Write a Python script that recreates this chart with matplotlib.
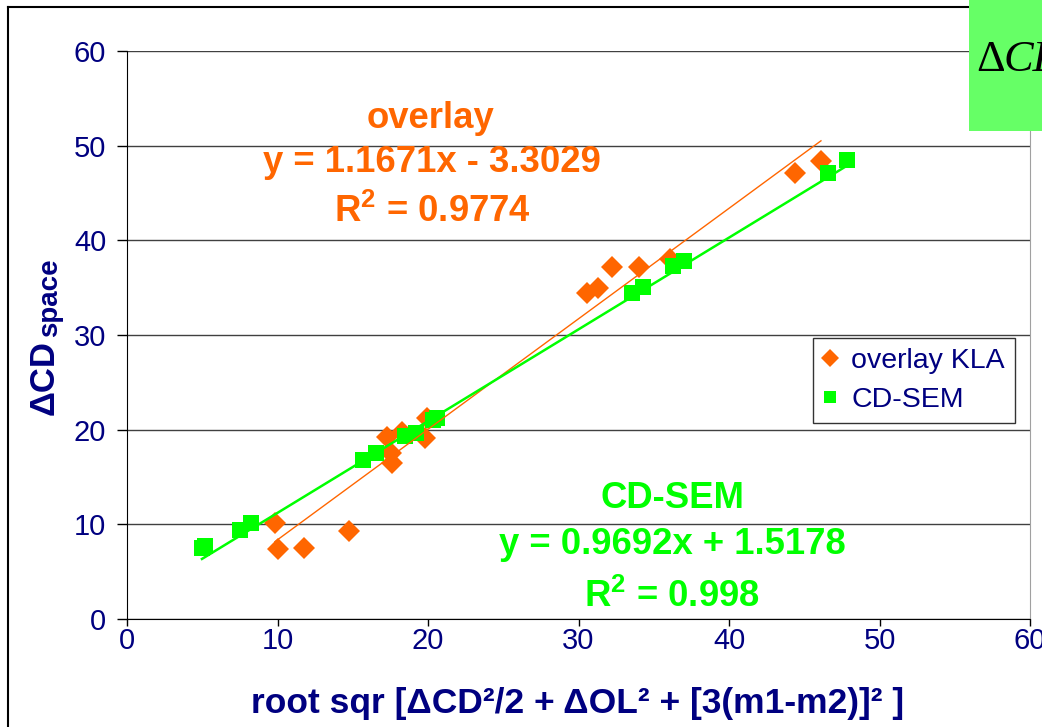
import matplotlib
matplotlib.use("Agg")
import matplotlib.pyplot as plt
from matplotlib.lines import Line2D
from matplotlib.patches import Rectangle
import numpy as np

# ---- data ----
kla_x = [9.83, 10.03, 11.76, 14.75, 17.28, 17.54, 17.61, 18.27, 19.80, 19.93,
         30.56, 31.30, 32.23, 34.02, 36.08, 44.39, 46.11]
kla_y = [10.14, 7.39, 7.50, 9.29, 19.22, 17.53, 16.47, 19.75, 19.11, 21.22,
         34.42, 34.95, 37.17, 37.17, 38.01, 47.10, 48.36]

sem_x = [4.98, 5.18, 7.51, 8.24, 15.68, 16.54, 18.47, 19.20, 20.33, 20.60,
         33.55, 34.29, 36.28, 37.01, 46.58, 47.84]
sem_y = [7.50, 7.71, 9.40, 10.14, 16.79, 17.53, 19.32, 19.64, 21.01, 21.22,
         34.42, 35.06, 37.28, 37.80, 47.10, 48.47]

kla_fit = (1.1671, -3.3029)
sem_fit = (0.9692, 1.5178)
kla_r2 = "0.9774"
sem_r2 = "0.998"

x_ticks = [0, 10, 20, 30, 40, 50, 60]
y_ticks = [0, 10, 20, 30, 40, 50, 60]

ORANGE = "#FF6600"
GREEN = "#00FF00"
NAVY = "#000080"

plt.rcParams['font.family'] = ['Liberation Sans', 'DejaVu Sans']
plt.rcParams['mathtext.fontset'] = 'custom'
plt.rcParams['mathtext.rm'] = 'Liberation Sans'
plt.rcParams['mathtext.bf'] = 'Liberation Sans:bold'

W, H = 1042, 727
fig = plt.figure(figsize=(W / 100, H / 100), dpi=100)

def fx(px):
    return px / W

def fy(py):
    return 1 - py / H

ax = fig.add_axes([fx(127), fy(619), fx(1030) - fx(127), fy(51) - fy(619)])
ax.set_xlim(0, 60)
ax.set_ylim(0, 60)
ax.set_xticks(x_ticks)
ax.set_yticks(y_ticks)
ax.tick_params(axis='both', direction='out', width=1, color='black',
               labelsize=21, labelcolor=NAVY)
ax.tick_params(axis='y', length=7, pad=8)
ax.tick_params(axis='x', length=5, pad=0.5)
ax.yaxis.grid(True, color='#404040', linewidth=1)
ax.set_axisbelow(True)
ax.spines['top'].set_visible(False)
ax.spines['right'].set_color('#A0A0A0')
ax.spines['left'].set_color('black')
ax.spines['bottom'].set_color('black')

ax.plot(kla_x, kla_y, linestyle='none', marker='D', markersize=11,
        color=ORANGE, markeredgewidth=0, zorder=3)
ax.plot(sem_x, sem_y, linestyle='none', marker='s', markersize=11,
        color=GREEN, markeredgewidth=0, zorder=4)

xk = np.array([min(kla_x), max(kla_x)])
ax.plot(xk, kla_fit[0] * xk + kla_fit[1], color=ORANGE, linewidth=1, zorder=5)
xs = np.array([min(sem_x), max(sem_x)])
ax.plot(xs, sem_fit[0] * xs + sem_fit[1], color=GREEN, linewidth=1.8, zorder=5)

# trendline labels
FS = 26.3
ax.text(fx(431), fy(118), "overlay", transform=fig.transFigure, color=ORANGE,
        fontsize=FS, fontweight='bold', ha='center', va='center')
ax.text(fx(432), fy(163), "y = %.4fx - %.4f" % (kla_fit[0], -kla_fit[1]),
        transform=fig.transFigure, color=ORANGE, fontsize=FS, fontweight='bold',
        ha='center', va='center')
ax.text(fx(432), fy(212), r"R$^{\mathbf{2}}$ = " + kla_r2, transform=fig.transFigure,
        color=ORANGE, fontsize=FS, fontweight='bold', ha='center', va='center')

ax.text(fx(672), fy(498), "CD-SEM", transform=fig.transFigure, color=GREEN,
        fontsize=FS, fontweight='bold', ha='center', va='center')
ax.text(fx(672), fy(545), "y = %.4fx + %.4f" % sem_fit, transform=fig.transFigure,
        color=GREEN, fontsize=FS, fontweight='bold', ha='center', va='center')
ax.text(fx(672), fy(597), r"R$^{\mathbf{2}}$ = " + sem_r2, transform=fig.transFigure,
        color=GREEN, fontsize=FS, fontweight='bold', ha='center', va='center')

# axis labels
fig.text(fx(578), fy(704), "root sqr [ΔCD²/2 + ΔOL² + [3(m1-m2)]² ]",
         color=NAVY, fontsize=25.5, fontweight='bold', ha='center', va='center')
fig.text(fx(54), fy(415), "ΔCD", color=NAVY, fontsize=25, fontweight='bold',
         rotation=90, rotation_mode='anchor', ha='left', va='baseline')
fig.text(fx(57), fy(337), "space", color=NAVY, fontsize=20, fontweight='bold',
         rotation=90, rotation_mode='anchor', ha='left', va='baseline')

# legend
handles = [Line2D([], [], linestyle='none', marker='D', markersize=9, color=ORANGE,
                  markeredgewidth=0),
           Line2D([], [], linestyle='none', marker='s', markersize=9, color=GREEN,
                  markeredgewidth=0)]
leg = ax.legend(handles, ["overlay KLA", "CD-SEM"], loc='upper left',
                bbox_to_anchor=(fx(813), fy(338)), bbox_transform=fig.transFigure,
                fontsize=20.5, frameon=True, fancybox=False, handlelength=0.5,
                handletextpad=0.5, borderpad=0.35, labelspacing=0.45,
                borderaxespad=0)
leg.get_frame().set_edgecolor('black')
leg.get_frame().set_linewidth(1)
for t in leg.get_texts():
    t.set_color(NAVY)

# outer chart border (cropped)
fig.add_artist(Line2D([fx(8), fx(8)], [fy(7), 0], color='black', linewidth=1.5,
                      transform=fig.transFigure))
fig.add_artist(Line2D([fx(8), 1], [fy(7), fy(7)], color='black', linewidth=1.5,
                      transform=fig.transFigure))

# cropped green box at top right
fig.add_artist(Rectangle((fx(969), fy(131)), 1 - fx(969), 1 - fy(131),
                         transform=fig.transFigure, facecolor='#66FF66',
                         edgecolor='none', zorder=10))
fig.text(fx(976), fy(71), "Δ", family='Liberation Serif', fontsize=32,
         color='black', ha='left', va='baseline', zorder=11)
fig.text(fx(1004), fy(71), "CD", family='Liberation Serif', style='italic',
         fontsize=32, color='black', ha='left', va='baseline', zorder=11)

fig.savefig("out.png", dpi=100)
